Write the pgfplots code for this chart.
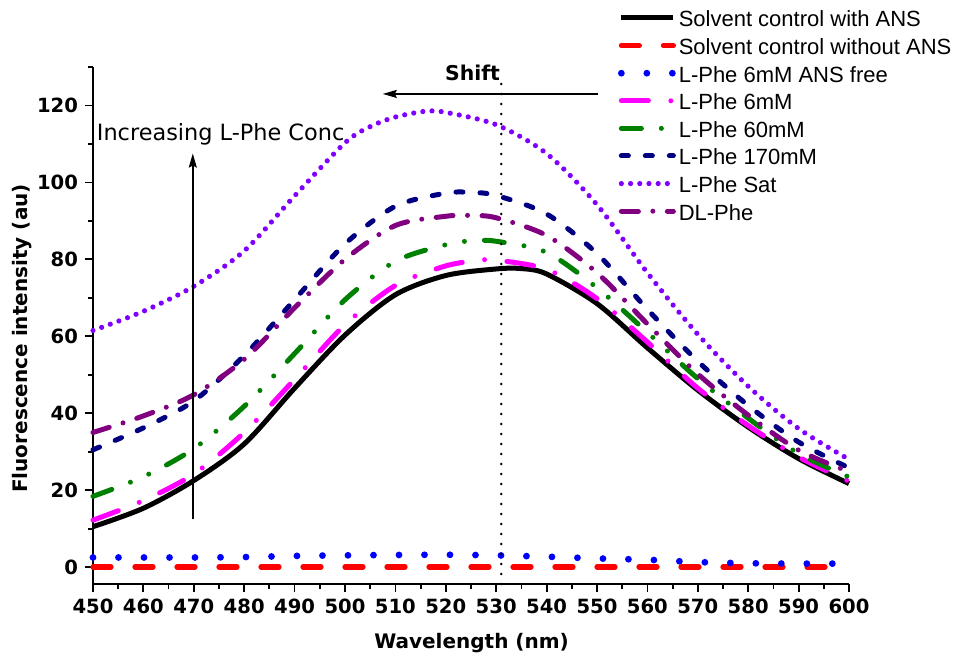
\documentclass[border=0pt]{standalone}
\usepackage{fontspec}
\setmainfont{DejaVu Sans}
\newfontfamily\legfont{Liberation Sans}
\usepackage{pgfplots}
\usepackage{pgfplotstable}
\pgfplotsset{compat=1.18}
\usetikzlibrary{arrows.meta}

\definecolor{cmag}{RGB}{255,0,255}
\definecolor{cgreen}{RGB}{0,128,0}
\definecolor{cnavy}{RGB}{0,0,128}
\definecolor{cviolet}{RGB}{128,0,255}
\definecolor{cpurple}{RGB}{128,0,128}

\pgfplotstableread{
x y
450 10.5
460 15.3
470 22.5
480 32.0
490 46.5
500 60.3
510 70.8
520 75.8
530 77.5
535 77.6
540 76.2
550 68.5
560 57.0
570 46.0
580 36.4
590 28.2
600 21.7
}\tblack

\pgfplotstableread{
x y
450 0
597 0
}\tred

\pgfplotstableread{
x y
450 2.5
460 2.5
470 2.5
480 2.6
490 2.9
500 3.05
510 3.15
520 3.2
530 3.05
540 2.7
550 2.25
560 1.9
570 1.3
580 1.0
590 0.9
597 0.9
}\tblue

\pgfplotstableread{
x y
450 12.2
460 17.3
470 24.2
480 35.0
490 48.8
500 63.0
510 73.2
520 78.3
527 79.8
530 79.8
540 77.4
550 69.8
560 58.5
570 46.5
580 36.8
590 28.6
600 22.3
}\tmag

\pgfplotstableread{
x y
450 18.4
460 23.5
470 30.8
480 41.8
490 55.5
500 69.5
510 79.5
520 83.8
525 84.8
530 84.7
540 81.8
550 72.6
560 61.0
570 49.0
580 38.7
590 29.5
600 23.4
}\tgreen

\pgfplotstableread{
x y
450 30.5
460 36.2
470 43.2
480 55.0
490 69.5
500 84.0
510 93.8
520 97.2
525 97.4
530 96.6
540 91.8
550 81.5
560 67.0
570 53.5
580 42.0
590 32.5
600 25.8
}\tnavy

\pgfplotstableread{
x y
450 61.5
460 66.5
470 73.0
480 82.2
490 96.5
500 110.3
505 114.5
510 117.0
516 118.5
520 118.2
530 115.0
540 107.5
550 94.2
560 76.5
570 60.5
580 47.0
590 36.0
600 28.0
}\tsat

\pgfplotstableread{
x y
450 35.0
460 39.3
470 44.8
480 54.0
490 67.4
500 80.0
510 88.8
520 91.2
525 91.4
530 90.8
540 86.2
550 76.5
560 63.2
570 50.2
580 39.5
590 30.4
600 24.8
}\tdl

\begin{document}
\begin{tikzpicture}
\begin{axis}[
  at={(0pt,0pt)}, anchor=south west,
  scale only axis, width=378pt, height=258.5pt,
  xmin=450, xmax=600, ymin=-4.4, ymax=130,
  axis lines*=left,
  axis line style={line width=1pt},
  clip=false,
  xtick={450,460,...,600},
  minor xtick={455,465,...,595},
  ytick={0,20,...,120},
  minor ytick={10,30,...,130},
  tick align=outside,
  major tick length=4pt, minor tick length=2.5pt,
  every tick/.style={line width=0.9pt, black},
  /pgf/number format/assume math mode=true,
  tick label style={font=\bfseries\fontsize{9.8}{11}\selectfont},
  xlabel={Wavelength (nm)},
  ylabel={Fluorescence intensity (au)},
  label style={font=\bfseries\fontsize{10}{12}\selectfont},
  xlabel style={at={(axis description cs:0.5007,-0.114)}, anchor=center},
  ylabel style={at={(axis description cs:-0.094,0.475)}, anchor=center},
  legend style={at={(axis description cs:0.6944,1.1161)}, anchor=north west,
    draw=none, fill=none, inner sep=0pt, outer sep=0pt, row sep=2.8pt,
    font=\legfont\fontsize{11}{13}\selectfont,
    nodes={inner sep=1pt, text height=9pt, text depth=0pt},
    cells={anchor=west}},
  legend image code/.code={\draw[#1] (0pt,0pt) -- (26pt,0pt); \path (26pt,0pt);},
]
\addplot[black, line width=2.5pt, smooth] table {\tblack};
\addlegendentry{Solvent control with ANS}
\addplot[red, line width=2.6pt, line cap=round, dash pattern=on 9pt off 12pt] table {\tred};
\addlegendentry{Solvent control without ANS}
\addplot[blue, line width=3.4pt, line cap=round, dash pattern=on 0pt off 12.75pt, smooth] table {\tblue};
\addlegendentry{L-Phe 6mM ANS free}
\addplot[cmag, line width=2.5pt, line cap=round, dash pattern=on 13.5pt off 11.25pt on 0pt off 11.25pt, smooth] table {\tmag};
\addlegendentry{L-Phe 6mM}
\addplot[cgreen, line width=2.5pt, line cap=round, dash pattern=on 10pt off 10pt on 0pt off 10pt on 0pt off 10pt, smooth] table {\tgreen};
\addlegendentry{L-Phe 60mM}
\addplot[cnavy, line width=2.5pt, line cap=round, dash pattern=on 3.5pt off 8.5pt, smooth] table {\tnavy};
\addlegendentry{L-Phe 170mM}
\addplot[cviolet, line width=2.6pt, line cap=round, dash pattern=on 0pt off 4.6pt, smooth] table {\tsat};
\addlegendentry{L-Phe Sat}
\addplot[cpurple, line width=2.5pt, line cap=round, dash pattern=on 8.5pt off 7.25pt on 0pt off 7.25pt, smooth] table {\tdl};
\addlegendentry{DL-Phe}

\addplot[black, line width=1.4pt, line cap=round, dash pattern=on 0pt off 5pt, forget plot] coordinates {(531,-4.4) (531,125.6)};
\draw[-{Stealth[length=7pt,width=4pt,inset=1pt]}, line width=0.8pt] (axis cs:469.8,12.4) -- (axis cs:469.8,107.5);
\draw[-{Stealth[length=7pt,width=4pt,inset=1pt]}, line width=0.8pt] (axis cs:550.2,123) -- (axis cs:507.5,123);
\node[anchor=base west, inner sep=0pt, font=\fontsize{11.2}{13}\selectfont] at (axis cs:450.7,111) {Increasing L-Phe Conc};
\node[anchor=base, inner sep=0pt, font=\bfseries\fontsize{10.2}{12}\selectfont] at (axis cs:525.3,126.4) {Shift};
\end{axis}
\pgfresetboundingbox
\path[use as bounding box] (-46.5pt,-38.5pt) rectangle (432.5pt,292pt);
\end{tikzpicture}
\end{document}
